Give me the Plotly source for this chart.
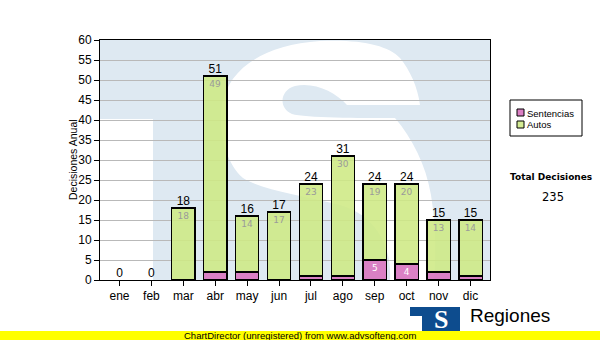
import plotly.graph_objects as go

# ---- data ----
months = ["ene", "feb", "mar", "abr", "may", "jun", "jul", "ago", "sep", "oct", "nov", "dic"]
sentencias = [0, 0, 0, 2, 2, 0, 1, 1, 5, 4, 2, 1]
autos = [0, 0, 18, 49, 14, 17, 23, 30, 19, 20, 13, 14]
y_ticks = list(range(0, 61, 5))
series_names = ["Sentencias", "Autos"]
y_title = "Decisiones Anual"
total_title = "Total Decisiones"

totals = [s + a for s, a in zip(sentencias, autos)]
grand_total = sum(totals)

# ---- styles ----
W, H = 600, 340
L, R, T, B = 100, 490, 40, 280
GREEN = "rgba(206,233,132,0.88)"
PINK = "rgba(216,118,192,0.92)"
WM_BLUE = "#dee9f2"
FONT = "Liberation Sans, Arial, sans-serif"
SFONT = "DejaVu Sans, Verdana, sans-serif"


def px(X):
    return (X - L) / (R - L)


def py(Y):
    return (B - Y) / (B - T)


def pt(X, Y):
    return f"{px(X):.4f},{py(Y):.4f}"


# watermark "S" outline (pixel geometry of the decoration)
S_PATH = [
    ("M", [(420, 105)]),
    ("L", [(347, 105)]),
    ("C", [(335, 92), (315, 82), (295, 86)]),
    ("C", [(280, 90), (278, 108), (292, 114)]),
    ("C", [(305, 118), (360, 118), (395, 118)]),
    ("C", [(412, 138), (426, 165), (431, 195)]),
    ("C", [(436, 225), (436, 255), (434, 280)]),
    ("L", [(390, 280)]),
    ("C", [(392, 245), (375, 215), (340, 205)]),
    ("C", [(300, 195), (262, 190), (243, 178)]),
    ("C", [(225, 162), (218, 130), (222, 105)]),
    ("C", [(228, 70), (262, 45), (320, 41)]),
    ("C", [(360, 39), (388, 45), (400, 58)]),
    ("C", [(410, 70), (418, 88), (420, 105)]),
]
s_path = " ".join(cmd + " " + " ".join(pt(*p) for p in pts) for cmd, pts in S_PATH) + " Z"

sent_text = [str(v) if v >= 3 else "" for v in sentencias]
autos_text = [str(v) if v > 0 else "" for v in autos]
sent_lw = [1.3 if v > 0 else 0 for v in sentencias]
autos_lw = [1.3 if v > 0 else 0 for v in autos]

fig = go.Figure()
fig.add_trace(go.Bar(
    x=months, y=sentencias, name=series_names[0],
    marker=dict(color=PINK, line=dict(color="black", width=sent_lw)),
    text=sent_text, textposition="inside", insidetextanchor="end",
    textfont=dict(family=SFONT, size=9, color="white"),
    showlegend=False,
))
fig.add_trace(go.Bar(
    x=months, y=autos, name=series_names[1],
    marker=dict(color=GREEN, line=dict(color="black", width=autos_lw)),
    text=autos_text, textposition="inside", insidetextanchor="end",
    textfont=dict(family=SFONT, size=9, color="#9a9a9a"),
    showlegend=False,
))
fig.add_trace(go.Scatter(
    x=months, y=totals, mode="text", text=[str(t) for t in totals],
    textposition="top center", textfont=dict(family=FONT, size=12, color="black"),
    showlegend=False, hoverinfo="skip",
))

shapes = [
    # watermark
    dict(type="rect", xref="paper", yref="paper", x0=px(100), x1=px(153), y0=py(280), y1=py(119),
         fillcolor="white", line=dict(width=0), layer="below"),
    dict(type="path", xref="paper", yref="paper", path=s_path,
         fillcolor="white", line=dict(width=0), layer="below"),
    # legend box
    dict(type="rect", xref="paper", yref="paper", x0=px(510), x1=px(582), y0=py(136), y1=py(100),
         fillcolor="white", line=dict(color="black", width=1)),
    dict(type="rect", xref="paper", yref="paper", x0=px(517), x1=px(524), y0=py(116), y1=py(109),
         fillcolor="#db7fc3", line=dict(color="black", width=1)),
    dict(type="rect", xref="paper", yref="paper", x0=px(517), x1=px(524), y0=py(128), y1=py(121),
         fillcolor="#d4ec94", line=dict(color="black", width=1)),
    # logo
    dict(type="rect", xref="paper", yref="paper", x0=px(410), x1=px(460), y0=py(316), y1=py(307),
         fillcolor="#0d4c8e", line=dict(width=0)),
    dict(type="rect", xref="paper", yref="paper", x0=px(422), x1=px(460), y0=py(331), y1=py(316),
         fillcolor="#0d4c8e", line=dict(width=0)),
    # yellow banner
    dict(type="rect", xref="paper", yref="paper", x0=px(0), x1=px(600), y0=py(340), y1=py(331),
         fillcolor="#ffff00", line=dict(width=0)),
]


def ann(X, Y, text, size, family=FONT, color="black", anchor="center", angle=0):
    return dict(xref="paper", yref="paper", x=px(X), y=py(Y), text=text, textangle=angle,
                xanchor=anchor, yanchor="middle", showarrow=False, borderpad=0,
                font=dict(family=family, size=size, color=color))


annotations = [
    ann(73, 160, y_title, 10.5, angle=-90),
    ann(526, 113, series_names[0], 9.5, anchor="left"),
    ann(526, 125, series_names[1], 9.5, anchor="left"),
    ann(551, 177, "<b>" + total_title + "</b>", 9, family=SFONT),
    ann(553, 197, str(grand_total), 11.5, family=SFONT),
    ann(441, 319, "<b>S</b>", 26, family="Liberation Serif, serif", color="white"),
    ann(469, 315, "Regiones", 19, anchor="left"),
    ann(300, 335.5, "ChartDirector (unregistered) from www.advsofteng.com", 9.5),
]

fig.update_layout(
    width=W, height=H,
    margin=dict(l=L, r=W - R, t=T, b=H - B, pad=0),
    paper_bgcolor="white", plot_bgcolor=WM_BLUE,
    barmode="stack", bargap=0.27,
    shapes=shapes, annotations=annotations,
    showlegend=False,
    xaxis=dict(type="category", showline=True, linecolor="black", linewidth=1, mirror=True,
               ticks="outside", ticklen=5, tickcolor="black", showgrid=False,
               tickfont=dict(family=FONT, size=12, color="black")),
    yaxis=dict(range=[0, 60], tickvals=y_ticks, showline=True, linecolor="black", linewidth=1,
               mirror=True, ticks="outside", ticklen=5, tickcolor="black",
               gridcolor="#b9b9b9", gridwidth=1, zeroline=False,
               tickfont=dict(family=FONT, size=12, color="black")),
)

fig.write_html("out.html", config={"displayModeBar": False},
               post_script="document.body.style.margin='0';")
